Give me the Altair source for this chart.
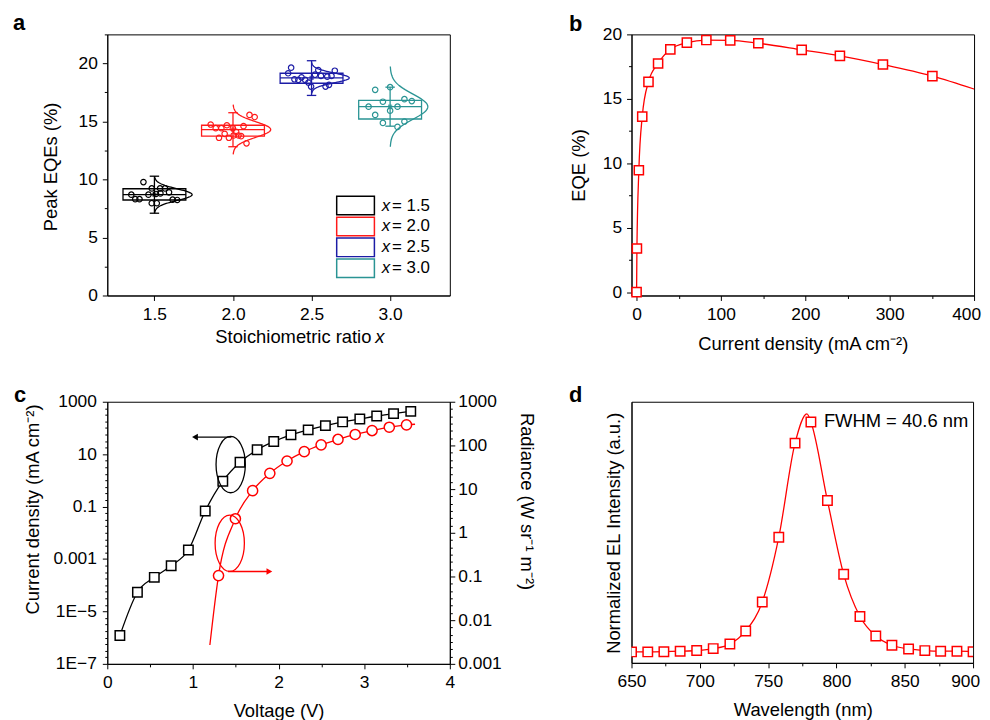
import altair as alt
import pandas as pd
import numpy as np

FONT = "Liberation Sans"
LBL = 17.5
TTL = 18.5

# ---------------- Panel a data ----------------
groups = ["1.5", "2.0", "2.5", "3.0"]
group_x = [1.5, 2.0, 2.5, 3.0]
group_colors = ["#000000", "#ff1a1a", "#1c1ca6", "#2a9494"]
box_q1 = [8.23, 13.73, 18.29, 15.21]
box_med = [8.69, 14.30, 18.75, 16.27]
box_q3 = [9.20, 14.67, 19.15, 16.81]
whisk_lo = [7.09, 12.82, 17.24, 14.59]
whisk_hi = [10.28, 15.75, 20.23, 17.95]
mean_eqe = [8.69, 14.30, 18.75, 16.27]
sd_eqe = [0.50, 0.67, 0.42, 1.08]

pts15_x = [1.430, 1.353, 1.378, 1.405, 1.462, 1.483, 1.483, 1.515, 1.536, 1.510, 1.538, 1.567, 1.593, 1.616, 1.645]
pts15_y = [9.77, 8.69, 8.30, 8.30, 8.69, 9.23, 7.95, 7.95, 9.23, 8.75, 8.80, 9.23, 8.89, 8.26, 8.23]
pts20_x = [1.858, 1.890, 1.926, 1.961, 1.999, 1.911, 1.947, 1.974, 2.020, 2.035, 2.052, 2.067, 2.105, 2.138, 2.086, 2.004]
pts20_y = [14.73, 14.42, 14.42, 14.67, 14.42, 13.59, 13.93, 13.59, 14.10, 13.79, 13.73, 14.59, 15.56, 15.38, 13.11, 13.79]
pts25_x = [2.370, 2.351, 2.391, 2.416, 2.436, 2.459, 2.480, 2.522, 2.543, 2.560, 2.600, 2.627, 2.648, 2.589, 2.611, 2.497]
pts25_y = [19.63, 19.15, 18.63, 18.58, 18.80, 18.58, 18.35, 19.03, 19.43, 18.92, 18.86, 18.92, 19.37, 18.00, 18.15, 18.00]
pts30_x = [2.905, 3.000, 2.863, 2.905, 2.954, 2.954, 3.000, 3.047, 3.091, 3.138, 3.047, 3.091]
pts30_y = [17.72, 17.95, 16.27, 15.56, 16.70, 14.87, 15.93, 16.27, 16.92, 16.75, 14.53, 14.99]

# ---------------- Panel b data ----------------
b_j = [0, 0.4, 2.7, 6.7, 14.1, 25.5, 40.0, 59.6, 82.7, 111.0, 144.3, 195.7, 241.0, 292.0, 350.6]
b_eqe = [0, 3.39, 9.46, 13.62, 16.32, 17.74, 18.84, 19.36, 19.56, 19.54, 19.31, 18.80, 18.33, 17.66, 16.76]
b_line_end_j = [400]
b_line_end_eqe = [15.76]

# ---------------- Panel c data ----------------
c_jv_v = [0.147, 0.352, 0.549, 0.746, 0.947, 1.144, 1.349, 1.550, 1.750, 1.944, 2.145, 2.346, 2.547, 2.748, 2.949, 3.146, 3.343, 3.544]
c_jv_j = [1.2e-6, 5.4e-5, 2.0e-4, 5.5e-4, 2.2e-3, 0.068, 0.93, 4.9, 14.8, 30.5, 54.6, 84.5, 123, 170, 220, 286, 351, 430]
c_rad_v = [1.299, 1.496, 1.697, 1.898, 2.099, 2.300, 2.497, 2.694, 2.895, 3.092, 3.293, 3.494]
c_rad_r = [0.105, 2.1, 9.2, 23, 44, 72, 103, 137, 178, 219, 261, 295]
c_rad_line_ext_v = [1.198, 3.594]
c_rad_line_ext_r = [0.0027, 305]

# annotations (data coordinates)
ell_black_v, ell_black_j = 1.441, 4.0
ell_red_v, ell_red_r = 1.43, 0.575
arrow_black_v = [1.449, 1.024]
arrow_black_j = 44.7
arrow_red_v = [1.41, 1.893]
arrow_red_r = 0.13

# ---------------- Panel d data ----------------
d_wl = [650.0, 661.9, 673.7, 685.6, 697.7, 709.8, 722.0, 733.6, 745.7, 757.8, 769.7, 781.3, 793.4, 805.3, 817.2, 828.8, 840.6, 852.8, 864.7, 876.3, 888.2, 900.0]
d_int = [0.0, 0.0, 0.001, 0.003, 0.006, 0.014, 0.033, 0.088, 0.21, 0.482, 0.877, 0.966, 0.636, 0.326, 0.149, 0.067, 0.028, 0.0125, 0.0056, 0.003, 0.003, 0.001]
d_peak_wl = [778.4]
d_peak_int = [1.0]
fwhm_text = "FWHM = 40.6 nm"

W, H = 345, 263


def tsize(test, major=5, minor=3):
    return {"condition": {"test": test, "value": major}, "value": minor}


def txt(label, x, y, size=TTL, style="normal", weight="normal", align="left", baseline="middle", angle=0):
    return alt.Chart(pd.DataFrame({"t": [label]})).mark_text(
        font=FONT, fontSize=size, fontStyle=style, fontWeight=weight,
        align=align, baseline=baseline, angle=angle, color="black"
    ).encode(x=alt.value(x), y=alt.value(y), text="t:N")


# =============== Panel a ===============
box_df = pd.DataFrame(dict(g=groups, x=group_x, q1=box_q1, med=box_med, q3=box_q3,
                           lo=whisk_lo, hi=whisk_hi, mean=mean_eqe, sd=sd_eqe))
box_df["xl"] = box_df["x"] - 0.2
box_df["xr"] = box_df["x"] + 0.2
box_df["cl"] = box_df["x"] - 0.03
box_df["cr"] = box_df["x"] + 0.03

pts_df = pd.concat([
    pd.DataFrame(dict(g=g, px=xs, py=ys)) for g, xs, ys in [
        ("1.5", pts15_x, pts15_y), ("2.0", pts20_x, pts20_y),
        ("2.5", pts25_x, pts25_y), ("3.0", pts30_x, pts30_y)]
], ignore_index=True)

t = np.linspace(-3.2, 3.2, 81)
curve_rows = []
for g, x0, m, s in zip(groups, group_x, mean_eqe, sd_eqe):
    for i, tt in enumerate(t):
        curve_rows.append(dict(g=g, o=i, cx=x0 + 0.24 * np.exp(-0.5 * tt * tt), cy=m + tt * s))
curve_df = pd.DataFrame(curve_rows)

leg_rows = []
for i, g in enumerate(groups):
    yt = 8.55 - i * 1.8
    leg_rows.append(dict(g=g, xl=2.66, xr=2.90, yt=yt, yb=yt - 1.6, ty=yt - 0.8,
                         tx1=2.946, tx2=3.012, lab="= " + g))
leg_df = pd.DataFrame(leg_rows)

xs_a = alt.Scale(domain=[1.2, 3.38], nice=False, zero=False)
ys_a = alt.Scale(domain=[0, 22.5], nice=False, zero=False)
ax_a_x = alt.Axis(values=group_x, format=".1f", title=None, tickSize=5, labelPadding=5)
ax_a_y = alt.Axis(values=[i * 2.5 for i in range(10)],
                  labelExpr="datum.value % 5 == 0 ? format(datum.value, 'd') : ''",
                  tickSize=tsize("datum.value % 5 == 0"),
                  title="Peak EQEs (%)", titleX=-57, titleY=133, titleAngle=-90,
                  titleBaseline="middle", titleAlign="center", labelPadding=5)
cs = alt.Scale(domain=groups, range=group_colors)


def xa(f):
    return alt.X(f, type="quantitative", scale=xs_a, axis=ax_a_x)


def ya(f):
    return alt.Y(f, type="quantitative", scale=ys_a, axis=ax_a_y)


col_a = alt.Color("g:N", scale=cs, legend=None)
stroke_a = alt.Stroke("g:N", scale=cs, legend=None)

a_box = alt.Chart(box_df).mark_rect(fillOpacity=0, strokeWidth=1.3).encode(
    x=xa("xl"), x2="xr", y=ya("q1"), y2="q3", stroke=stroke_a)
a_med = alt.Chart(box_df).mark_rule(strokeWidth=1.3).encode(
    x=xa("xl"), x2="xr", y=ya("med"), color=col_a)
a_wh = alt.Chart(box_df).mark_rule(strokeWidth=1.3).encode(
    x=xa("x"), y=ya("lo"), y2="hi", color=col_a)
a_caplo = alt.Chart(box_df).mark_rule(strokeWidth=1.3).encode(
    x=xa("cl"), x2="cr", y=ya("lo"), color=col_a)
a_caphi = alt.Chart(box_df).mark_rule(strokeWidth=1.3).encode(
    x=xa("cl"), x2="cr", y=ya("hi"), color=col_a)
a_mean = alt.Chart(box_df).mark_point(shape="square", size=18, filled=True).encode(
    x=xa("x"), y=ya("mean"), color=col_a)
a_pts = alt.Chart(pts_df).mark_point(shape="circle", size=30, strokeWidth=1.2, filled=False, opacity=1).encode(
    x=xa("px"), y=ya("py"), color=col_a)
a_curve = alt.Chart(curve_df).mark_line(strokeWidth=1.3).encode(
    x=xa("cx"), y=ya("cy"), color=col_a, detail="g:N", order="o:Q")
a_leg_box = alt.Chart(leg_df).mark_rect(fill="white", strokeWidth=1.5).encode(
    x=xa("xl"), x2="xr", y=ya("yb"), y2="yt", stroke=stroke_a)
a_leg_x = alt.Chart(leg_df).mark_text(font=FONT, fontSize=17, fontStyle="italic", align="left",
                                      baseline="middle", color="black").encode(
    x=xa("tx1"), y=ya("ty"), text=alt.value("x"))
a_leg_t = alt.Chart(leg_df).mark_text(font=FONT, fontSize=17, align="left",
                                      baseline="middle", color="black").encode(
    x=xa("tx2"), y=ya("ty"), text="lab:N")

panel_a = alt.layer(
    a_curve, a_box, a_med, a_wh, a_caplo, a_caphi, a_pts, a_mean,
    a_leg_box, a_leg_x, a_leg_t,
    txt("Stoichiometric ratio", 266, H + 42, align="right"),
    txt("x", 270, H + 42, style="italic"),
    txt("a", -95, -4, size=22, weight="bold", baseline="alphabetic"),
).properties(width=W, height=H)

# =============== Panel b ===============
b_pts = pd.DataFrame(dict(j=b_j, eqe=b_eqe))
b_line = pd.concat([b_pts, pd.DataFrame(dict(j=b_line_end_j, eqe=b_line_end_eqe))], ignore_index=True)
xs_b = alt.Scale(domain=[-6, 400], nice=False, zero=False)
ys_b = alt.Scale(domain=[-0.26, 20], nice=False, zero=False)
ax_b_x = alt.Axis(values=list(range(0, 401, 50)),
                  labelExpr="datum.value % 100 == 0 ? format(datum.value, 'd') : ''",
                  tickSize=tsize("datum.value % 100 == 0"),
                  labelOffset={"condition": {"test": "datum.value == 400", "value": -8}, "value": 0},
                  title="Current density (mA cm⁻²)", titleX=W / 2, titleY=48,
                  titleBaseline="middle", titleAlign="center", labelPadding=5)
ax_b_y = alt.Axis(values=[i * 2.5 for i in range(9)],
                  labelExpr="datum.value % 5 == 0 ? format(datum.value, 'd') : ''",
                  tickSize=tsize("datum.value % 5 == 0"),
                  title="EQE (%)", titleX=-53, titleY=131.5, titleAngle=-90,
                  titleBaseline="middle", titleAlign="center", labelPadding=5)
b_l = alt.Chart(b_line).mark_line(color="#ff0000", strokeWidth=1.3, interpolate="monotone").encode(
    x=alt.X("j:Q", scale=xs_b, axis=ax_b_x), y=alt.Y("eqe:Q", scale=ys_b, axis=ax_b_y))
b_p = alt.Chart(b_pts).mark_point(shape="square", size=85, filled=True, fill="white",
                                  stroke="#ff0000", strokeWidth=1.5, opacity=1).encode(
    x=alt.X("j:Q", scale=xs_b, axis=ax_b_x), y=alt.Y("eqe:Q", scale=ys_b, axis=ax_b_y))
panel_b = alt.layer(
    b_l, b_p,
    txt("b", -63, -3, size=22, weight="bold", baseline="alphabetic"),
).properties(width=W, height=H)

# =============== Panel c ===============
HC = 264
jv_df = pd.DataFrame(dict(v=c_jv_v, j=c_jv_j))
rad_df = pd.DataFrame(dict(v=c_rad_v, r=c_rad_r))
rad_line = pd.concat([rad_df, pd.DataFrame(dict(v=c_rad_line_ext_v, r=c_rad_line_ext_r))],
                     ignore_index=True).sort_values("v")

xs_c = alt.Scale(domain=[0, 4], nice=False, zero=False)
ysl_c = alt.Scale(type="log", domain=[1e-7, 1000], nice=False)
ysr_c = alt.Scale(type="log", domain=[1e-3, 1000], nice=False)

ax_c_x = alt.Axis(values=[i * 0.5 for i in range(9)],
                  labelExpr="datum.value % 1 == 0 ? format(datum.value, 'd') : ''",
                  tickSize=tsize("datum.value % 1 == 0"),
                  title="Voltage (V)", titleX=W / 2, titleY=47,
                  titleBaseline="middle", titleAlign="center", labelPadding=5)
q4 = "round(log(datum.value)/LN10*4)"
left_lab = ("{q}==12?'1000':{q}==4?'10':{q}==-4?'0.1':{q}==-12?'0.001':"
            "{q}==-20?'1E−5':{q}==-28?'1E−7':''").format(q=q4)
ax_c_yl = alt.Axis(values=[10 ** (k / 4) for k in range(-28, 13)],
                   labelExpr=left_lab,
                   tickSize=tsize("abs(%s) %% 8 == 4" % q4, 5, 2.5),
                   title="Current density (mA cm⁻²)", titleX=-75, titleY=108, titleAngle=-90,
                   titleBaseline="middle", titleAlign="center", labelPadding=6, orient="left")
q6 = "round(log(datum.value)/LN10*6)"
right_lab = ("{q}==18?'1000':{q}==12?'100':{q}==6?'10':{q}==0?'1':{q}==-6?'0.1':"
             "{q}==-12?'0.01':{q}==-18?'0.001':''").format(q=q6)
ax_c_yr = alt.Axis(values=[10 ** (k / 6) for k in range(-18, 19)],
                   labelExpr=right_lab,
                   tickSize=tsize("abs(%s) %% 6 == 0" % q6, 5, 2.5),
                   title="Radiance (W sr⁻¹ m⁻²)", titleX=77, titleY=100, titleAngle=90,
                   titleBaseline="middle", titleAlign="center", labelPadding=3, orient="right")


def xc(f):
    return alt.X(f, type="quantitative", scale=xs_c, axis=ax_c_x)


def ycl(f):
    return alt.Y(f, type="quantitative", scale=ysl_c, axis=ax_c_yl)


def ycr(f):
    return alt.Y(f, type="quantitative", scale=ysr_c, axis=ax_c_yr)


ELL = "M0 -1 A0.52 1 0 1 1 0 1 A0.52 1 0 1 1 0 -1 Z"
ann_black = pd.DataFrame(dict(v=[ell_black_v], j=[ell_black_j]))
arr_black = pd.DataFrame(dict(v1=[arrow_black_v[0]], v2=[arrow_black_v[1]], j=[arrow_black_j]))
ann_red = pd.DataFrame(dict(v=[ell_red_v], r=[ell_red_r]))
arr_red = pd.DataFrame(dict(v1=[arrow_red_v[0]], v2=[arrow_red_v[1]], r=[arrow_red_r]))

c_left = alt.layer(
    alt.Chart(jv_df).mark_line(color="black", strokeWidth=1.3, interpolate="monotone").encode(
        x=xc("v"), y=ycl("j")),
    alt.Chart(jv_df).mark_point(shape="square", size=90, filled=True, fill="white",
                                stroke="black", strokeWidth=1.5, opacity=1).encode(
        x=xc("v"), y=ycl("j")),
    alt.Chart(ann_black).mark_point(shape=ELL, size=3215, filled=False, color="black",
                                    strokeWidth=1.3, opacity=1).encode(x=xc("v"), y=ycl("j")),
    alt.Chart(arr_black).mark_rule(color="black", strokeWidth=1.3).encode(
        x=xc("v1"), x2="v2", y=ycl("j")),
    alt.Chart(arr_black).mark_point(shape="triangle-left", size=45, filled=True, color="black",
                                    opacity=1).encode(x=xc("v2"), y=ycl("j")),
)
c_right = alt.layer(
    alt.Chart(rad_line).mark_line(color="#ff0000", strokeWidth=1.3, interpolate="monotone").encode(
        x=xc("v"), y=ycr("r")),
    alt.Chart(rad_df).mark_point(shape="circle", size=105, filled=True, fill="white",
                                 stroke="#ff0000", strokeWidth=1.5, opacity=1).encode(
        x=xc("v"), y=ycr("r")),
    alt.Chart(ann_red).mark_point(shape=ELL, size=3215, filled=False, color="#ff0000",
                                  strokeWidth=1.3, opacity=1).encode(x=xc("v"), y=ycr("r")),
    alt.Chart(arr_red).mark_rule(color="#ff0000", strokeWidth=1.3).encode(
        x=xc("v1"), x2="v2", y=ycr("r")),
    alt.Chart(arr_red).mark_point(shape="triangle-right", size=45, filled=True, color="#ff0000",
                                  opacity=1).encode(x=xc("v2"), y=ycr("r")),
)
panel_c = alt.layer(
    c_left, c_right,
    txt("c", -94, 0, size=22, weight="bold", baseline="alphabetic"),
).resolve_scale(y="independent").properties(width=W, height=HC)

# =============== Panel d ===============
d_pts = pd.DataFrame(dict(wl=d_wl, it=d_int))
d_line = pd.concat([d_pts, pd.DataFrame(dict(wl=d_peak_wl, it=d_peak_int))],
                   ignore_index=True).sort_values("wl")
xs_d = alt.Scale(domain=[650, 900], nice=False, zero=False)
ys_d = alt.Scale(domain=[-0.046, 1.051], nice=False, zero=False)
ax_d_x = alt.Axis(values=list(range(650, 901, 25)),
                  labelExpr="datum.value % 50 == 0 ? format(datum.value, 'd') : ''",
                  tickSize=tsize("datum.value % 50 == 0"),
                  labelOffset={"condition": {"test": "datum.value == 900", "value": -8}, "value": 0},
                  title="Wavelength (nm)", titleX=W / 2, titleY=47,
                  titleBaseline="middle", titleAlign="center", labelPadding=5)
ax_d_y = alt.Axis(ticks=False, labels=False, title="Normalized EL Intensity (a.u.)",
                  titleX=-18, titleY=132, titleAngle=-90, titleBaseline="middle",
                  titleAlign="center")
fw_df = pd.DataFrame(dict(wl=[790.8], it=[0.968], t=[fwhm_text]))
panel_d = alt.layer(
    alt.Chart(d_line).mark_line(color="#ff0000", strokeWidth=1.3, interpolate="monotone", clip=True).encode(
        x=alt.X("wl:Q", scale=xs_d, axis=ax_d_x), y=alt.Y("it:Q", scale=ys_d, axis=ax_d_y)),
    alt.Chart(d_pts).mark_point(shape="square", size=90, filled=True, fill="white", stroke="#ff0000",
                                strokeWidth=1.5, opacity=1, clip=True).encode(
        x=alt.X("wl:Q", scale=xs_d, axis=ax_d_x), y=alt.Y("it:Q", scale=ys_d, axis=ax_d_y)),
    alt.Chart(fw_df).mark_text(font=FONT, fontSize=TTL, align="left", baseline="middle", color="black").encode(
        x=alt.X("wl:Q", scale=xs_d, axis=ax_d_x), y=alt.Y("it:Q", scale=ys_d, axis=ax_d_y), text="t:N"),
    txt("d", -63, 0, size=22, weight="bold", baseline="alphabetic"),
).properties(width=344, height=H)

chart = alt.concat(
    panel_a, panel_b, panel_c, panel_d,
    columns=2, spacing={"row": 107, "column": 183}, bounds="flush",
).properties(
    padding={"left": 4, "top": 1, "right": 0, "bottom": 0}
).configure_view(
    stroke="black", strokeWidth=1
).configure_axis(
    labelFont=FONT, labelFontSize=LBL, titleFont=FONT, titleFontSize=TTL,
    titleFontWeight="normal", labelColor="black", titleColor="black",
    domainColor="black", tickColor="black", domainWidth=1, tickWidth=1,
    grid=False, labelOverlap=False, labelFlush=False, labelBound=False
)

chart.save("out.html", embed_options={"renderer": "svg", "actions": False})
